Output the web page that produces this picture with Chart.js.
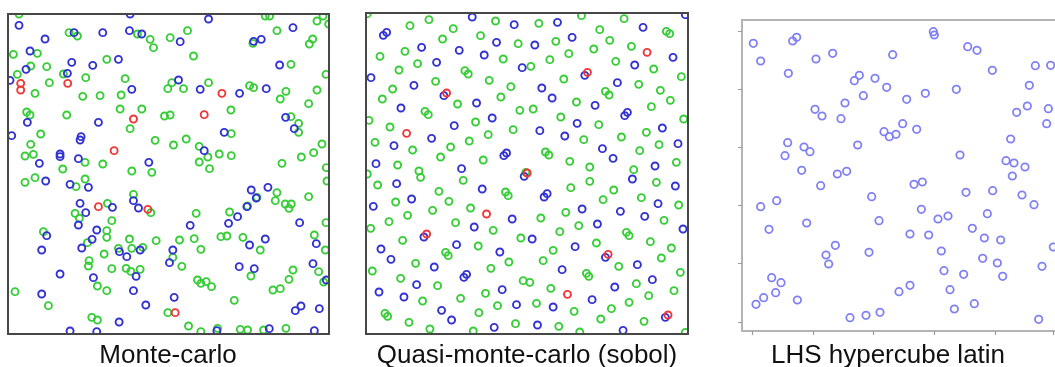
<!DOCTYPE html>
<html><head><meta charset="utf-8">
<script src="https://cdn.jsdelivr.net/npm/chart.js@4"></script>
<style>
html,body{margin:0;padding:0;background:#fff}
body{width:1055px;height:367px;overflow:hidden;position:relative;font-family:"Liberation Sans",Arial,sans-serif}
canvas{position:absolute}
.cap{position:absolute;top:341px;font-size:26px;line-height:26px;color:#111;white-space:nowrap;transform:translateX(-50%)}
</style></head>
<body>
<canvas id="c1" width="337" height="336" style="left:0px;top:6px"></canvas>
<canvas id="c2" width="338" height="337" style="left:358px;top:5px"></canvas>
<canvas id="c3" width="346" height="327" style="left:734px;top:12px"></canvas>
<div class="cap" id="t1" style="left:168px"></div>
<div class="cap" id="t2" style="left:527px"></div>
<div class="cap" id="t3" style="left:888px"></div>
<script>
// ---- captions ----
const titles = ["Monte-carlo", "Quasi-monte-carlo (sobol)", "LHS hypercube latin"];

// ---- Monte-carlo panel points [x, y] ----
const mcGreen = [[57,42],[795,48],[808,48],[968,48],[950,63],[985,72],[207,98],[232,108],[412,102],[562,92],[510,113],[450,118],[830,92],[758,130],[937,117],[927,132],[460,143],[112,160],[40,163],[580,168],[320,178],[872,193],[92,198],[140,200],[52,223],[190,222],[257,233],[375,236],[977,223],[148,248],[515,248],[625,248],[503,266],[550,266],[748,257],[760,263],[857,274],[950,270],[105,280],[248,289],[300,287],[363,285],[840,297],[925,311],[360,327],[425,327],[80,336],[90,345],[200,345],[493,348],[510,345],[692,330],[872,350],[895,370],[895,397],[390,386],[122,402],[693,401],[465,421],[558,417],[520,435],[92,433],[597,439],[965,432],[75,468],[100,463],[623,471],[657,462],[693,467],[940,458],[903,471],[255,487],[308,492],[597,486],[845,490],[978,503],[188,507],[395,513],[455,517],[628,506],[105,533],[75,547],[255,537],[228,560],[980,543],[830,578],[400,583],[770,592],[825,602],[925,590],[855,612],[873,612],[866,625],[322,610],[452,638],[742,618],[225,640],[238,655],[588,640],[688,636],[335,662],[977,668],[320,692],[130,695],[320,712],[262,728],[388,717],[468,722],[538,720],[582,716],[662,710],[680,708],[728,712],[942,705],[355,745],[395,745],[428,742],[602,748],[780,750],[975,750],[312,762],[267,782],[265,798],[518,772],[335,806],[378,805],[392,814],[420,808],[545,799],[878,810],[955,815],[752,828],[866,838],[970,846],[592,840],[602,850],[618,845],[634,860],[292,858],[320,872],[818,870],[840,866],[45,875],[702,901],[145,917],[503,938],[275,952],[292,960],[565,978],[602,995],[652,985],[720,988],[742,990],[790,990],[857,985]];
const mcBlue = [[390,42],[625,57],[57,76],[222,98],[308,98],[388,92],[425,102],[878,83],[135,117],[540,125],[783,118],[760,124],[90,153],[215,187],[278,196],[355,178],[838,195],[78,208],[202,220],[30,241],[535,240],[600,268],[395,268],[718,280],[798,266],[856,352],[82,367],[295,367],[882,386],[35,407],[243,410],[240,420],[672,397],[612,452],[180,462],[180,470],[235,476],[446,487],[118,490],[137,543],[210,553],[265,562],[803,562],[753,570],[400,602],[768,594],[240,610],[337,622],[415,624],[740,620],[257,638],[712,650],[235,675],[570,676],[685,670],[898,668],[290,690],[140,707],[276,718],[795,717],[948,731],[748,735],[245,744],[125,750],[358,755],[380,770],[420,750],[518,750],[508,788],[938,791],[408,829],[717,800],[762,806],[180,822],[280,833],[978,840],[400,872],[125,882],[522,892],[437,915],[902,918],[885,932],[957,926],[357,966],[210,993],[290,995],[650,992],[807,986],[942,992]];
const mcRed = [[62,250],[62,270],[203,250],[665,280],[612,344],[400,357],[342,452],[295,620],[443,628],[525,938]];

// ---- Quasi-monte-carlo (sobol) panel points ----
const qmcGreen = [[22,42],[665,48],[207,60],[150,78],[407,64],[537,71],[793,57],[280,87],[720,90],[920,95],[930,102],[248,118],[362,108],[475,132],[588,125],[750,122],[135,155],[702,148],[815,140],[60,170],[430,178],[570,180],[627,162],[173,192],[768,185],[117,211],[513,200],[315,213],[325,223],[882,208],[965,231],[227,245],[388,242],[612,238],[453,261],[837,254],[98,268],[737,275],[748,286],[902,272],[67,298],[423,292],[932,302],[293,313],[650,307],[480,332],[520,328],[875,321],[195,335],[205,345],[603,352],[972,358],[27,362],[347,367],[717,375],[90,382],[460,390],[385,405],[860,398],[785,412],[672,420],[328,424],[45,428],[272,442],[898,435],[158,451],[840,453],[557,457],[567,466],[242,472],[370,481],[630,485],[950,488],[113,496],[690,502],[822,510],[177,514],[182,533],[498,518],[22,523],[310,542],[690,545],[890,548],[53,556],[633,564],[762,571],[237,575],[437,577],[445,588],[845,594],[267,605],[107,607],[730,600],[957,616],[332,625],[218,632],[618,638],[143,647],[543,655],[87,666],[913,662],[287,669],[657,678],[32,686],[400,692],[600,696],[800,698],[808,708],[483,715],[128,722],[872,726],[710,730],[355,739],[935,745],[257,758],[265,768],[580,752],[905,775],[447,787],[550,783],[167,791],[777,800],[393,806],[37,814],[962,818],[680,821],[687,830],[122,836],[490,843],[510,848],[233,858],[830,852],[573,866],[943,873],[377,881],[302,896],[867,888],[188,904],[808,908],[530,911],[413,918],[755,927],[643,935],[75,941],[83,950],[357,939],[723,958],[147,968],[467,972],[853,965],[597,980],[210,988],[340,994],[660,997],[977,998]];
const qmcBlue = [[337,52],[977,45],[463,75],[593,68],[850,83],[80,98],[70,107],[410,128],[525,136],[637,113],[185,143],[298,152],[373,166],[940,173],[230,188],[825,196],[487,204],[675,227],[33,234],[773,249],[162,257],[546,265],[252,288],[577,295],[350,310],[706,317],[123,325],[803,338],[795,348],[397,355],[652,371],[283,378],[908,385],[540,393],[615,409],[215,416],[102,438],[955,432],[728,447],[440,460],[432,468],[760,476],[48,492],[886,499],[305,507],[493,530],[818,538],[110,552],[947,559],[367,568],[562,582],[553,592],[155,598],[895,612],[40,620],[667,628],[782,635],[855,650],[457,658],[713,673],[343,682],[970,688],[192,712],[517,718],[290,735],[646,741],[63,748],[420,757],[737,773],[93,779],[833,795],[223,802],[607,810],[320,824],[312,833],[878,840],[170,855],[765,862],[57,877],[427,870],[132,892],[697,900],[470,915],[580,922],[245,932],[917,953],[275,961],[533,976],[403,983],[790,992]];
const qmcRed = [[862,158],[683,218],[260,280],[140,401],[502,520],[380,643],[200,703],[745,764],[623,884],[925,946]];

// ---- LHS hypercube latin panel points ----
const lhsPoints = [[100,130],[122,183],[218,123],[230,112],[205,220],[288,177],[338,160],[518,164],[640,95],[643,105],[743,140],[771,151],[817,211],[946,197],[992,196],[403,242],[418,226],[465,235],[500,262],[560,298],[616,280],[430,287],[375,309],[709,268],[928,256],[285,328],[306,348],[363,356],[890,337],[922,318],[985,326],[980,371],[548,371],[492,395],[508,410],[528,403],[590,388],[872,417],[203,428],[413,435],[195,467],[252,441],[270,455],[720,465],[245,511],[352,522],[380,514],[858,482],[882,489],[915,501],[877,528],[302,557],[582,553],[607,546],[738,577],[818,572],[906,585],[455,590],[122,620],[170,602],[942,614],[604,628],[802,641],[654,657],[684,648],[477,662],[260,669],[147,688],[757,685],[570,702],[626,705],[793,714],[842,720],[346,736],[1000,741],[664,753],[447,757],[318,765],[326,792],[788,775],[832,789],[966,799],[155,833],[183,848],[672,812],[731,823],[848,829],[570,856],[537,875],[167,878],[131,893],[108,913],[232,900],[690,869],[763,911],[703,927],[480,937],[438,946],[390,953],[956,958]];
const lhsXTicks = [95, 280, 458, 643, 825, 1000];
const lhsYTicks = [92, 266, 440, 615, 790, 965];

const toXY = arr => arr.map(p => ({x: p[0], y: p[1]}));

const framePlugin = {
  id: 'frame',
  afterDatasetsDraw(chart, args, opts) {
    const {ctx, chartArea: a} = chart;
    ctx.save();
    ctx.strokeStyle = opts.color;
    ctx.lineWidth = opts.width;
    ctx.strokeRect(a.left, a.top, a.right - a.left, a.bottom - a.top);
    if (opts.xTicks) {
      const xs = chart.scales.x, ys = chart.scales.y;
      ctx.lineWidth = 1.2;
      ctx.strokeStyle = opts.tickColor;
      ctx.beginPath();
      opts.xTicks.forEach(v => { const p = Math.round(xs.getPixelForValue(v)) + 0.5; ctx.moveTo(p, a.bottom); ctx.lineTo(p, a.bottom + opts.tickLen); });
      opts.yTicks.forEach(v => { const p = Math.round(ys.getPixelForValue(v)) + 0.5; ctx.moveTo(a.left, p); ctx.lineTo(a.left - opts.tickLen, p); });
      ctx.stroke();
    }
    ctx.restore();
  }
};

function ds(points, color, r, bw) {
  return {
    data: toXY(points),
    pointStyle: 'circle',
    pointRadius: r,
    pointHoverRadius: r,
    pointBorderWidth: bw,
    pointBorderColor: color,
    pointBackgroundColor: 'rgba(0,0,0,0)',
    clip: 0
  };
}

function makeChart(id, datasets, xr, yr, pad, frame) {
  return new Chart(document.getElementById(id), {
    type: 'scatter',
    data: {datasets},
    options: {
      responsive: false,
      animation: false,
      devicePixelRatio: 1,
      layout: {padding: pad},
      events: [],
      plugins: {legend: {display: false}, tooltip: {enabled: false}, frame},
      scales: {
        x: {type: 'linear', display: false, min: xr[0], max: xr[1]},
        y: {type: 'linear', display: false, min: yr[0], max: yr[1], reverse: true}
      }
    },
    plugins: [framePlugin]
  });
}

const GREEN = 'rgb(55,205,55)', BLUE = 'rgb(50,50,210)', RED = 'rgb(240,55,55)', LHSC = 'rgb(128,128,245)';

makeChart('c1', [ds(mcRed, RED, 3.5, 1.9), ds(mcBlue, BLUE, 3.5, 1.9), ds(mcGreen, GREEN, 3.5, 1.9)],
  [24, 986], [42, 1002], 8, {color: '#474747', width: 2});
makeChart('c2', [ds(qmcRed, RED, 3.5, 1.9), ds(qmcBlue, BLUE, 3.5, 1.9), ds(qmcGreen, GREEN, 3.5, 1.9)],
  [18, 985], [40, 1003], 8, {color: '#474747', width: 2});
makeChart('c3', [ds(lhsPoints, LHSC, 3.7, 1.8)],
  [66, 1056], [60, 993], 8, {color: '#b4b4b4', width: 2, xTicks: lhsXTicks, yTicks: lhsYTicks, tickLen: 4, tickColor: '#9a9a9a'});

document.getElementById('t1').textContent = titles[0];
document.getElementById('t2').textContent = titles[1];
document.getElementById('t3').textContent = titles[2];
</script>
</body></html>
